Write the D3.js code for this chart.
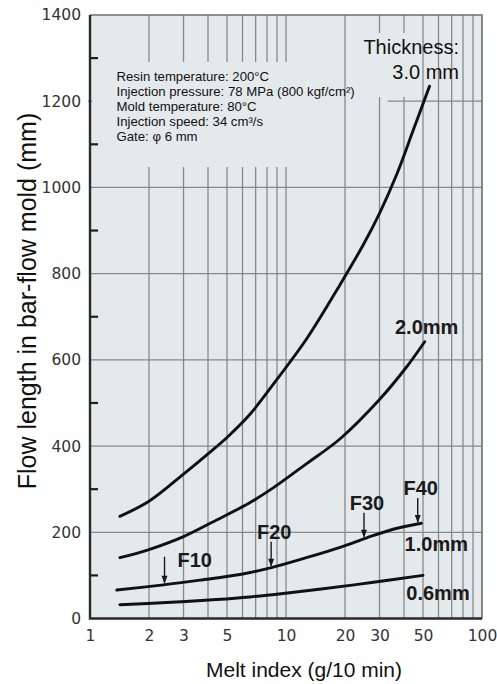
<!DOCTYPE html>
<html>
<head>
<meta charset="utf-8">
<script src="https://cdn.jsdelivr.net/npm/d3@7"></script>
<style>
  html, body { margin: 0; padding: 0; background: #ffffff; }
  svg { display: block; }
</style>
</head>
<body>
<svg id="chart" width="497" height="684"></svg>
<script>
// Melt index (g/10 min) and flow length (mm) for each wall thickness
const mi30   = [1.42, 2, 3, 4, 5, 6.5, 8.6, 12.8, 18.9, 25, 30, 36.7, 44.6, 54];
const flow30 = [237, 272, 335, 382, 420, 472, 543, 650, 775, 870, 940, 1030, 1133, 1235];

const mi20   = [1.42, 2, 3, 4.4, 6.5, 8.6, 12.8, 18.9, 30, 41.3, 51];
const flow20 = [141, 160, 190, 228, 268, 303, 360, 417, 508, 584, 642];

const mi10   = [1.37, 2.37, 3.64, 5.82, 8.43, 12.7, 18.9, 25.8, 35.2, 49];
const flow10 = [66, 78, 89, 102, 118, 141, 165, 187, 207, 221];

const mi06   = [1.42, 2.46, 4.43, 6.55, 9.69, 15.5, 27.9, 50];
const flow06 = [32, 37, 44, 50, 58, 69, 84, 100];

// Resin grades marked on the 1.0 mm curve
const gradeNames = ["F10", "F20", "F30", "F40"];
const gradeMI    = [2.4, 8.4, 25, 47];

// Axis ticks
const xTickLabels = [1, 2, 3, 5, 10, 20, 30, 50, 100];
const xGridValues = [2, 3, 4, 5, 6, 7, 8, 9, 10, 20, 30, 40, 50, 60, 70, 80, 90];
const yTickLabels = [0, 200, 400, 600, 800, 1000, 1200, 1400];
const yMinorTicks = [100, 300, 500, 700, 900, 1100, 1300];

const conditions = [
  "Resin temperature: 200°C",
  "Injection pressure: 78 MPa (800 kgf/cm²)",
  "Mold temperature: 80°C",
  "Injection speed: 34 cm³/s",
  "Gate: φ 6 mm"
];

const svg = d3.select("#chart");
const plotL = 90, plotR = 482, plotT = 15, plotB = 618.5;

const x = d3.scaleLog().domain([1, 100]).range([plotL, plotR]);
const y = d3.scaleLinear().domain([0, 1400]).range([plotB, plotT]);

const gridColor = "#858a8d";
const bg = "#e4e9ec";

// plot background
svg.append("rect")
  .attr("x", plotL).attr("y", plotT)
  .attr("width", plotR - plotL).attr("height", plotB - plotT)
  .attr("fill", bg);

// grid
const grid = svg.append("g").attr("stroke", gridColor).attr("stroke-width", 1.3);
grid.selectAll("line.v").data(xGridValues).join("line")
  .attr("class", "v")
  .attr("x1", d => x(d)).attr("x2", d => x(d))
  .attr("y1", plotT).attr("y2", plotB);
grid.selectAll("line.h").data([200, 400, 600, 800, 1000]).join("line")
  .attr("class", "h")
  .attr("x1", plotL).attr("x2", plotR)
  .attr("y1", d => y(d)).attr("y2", d => y(d));
// the 1200 line runs only on the right side of the condition block
grid.append("line")
  .attr("x1", x(33)).attr("x2", plotR)
  .attr("y1", y(1200)).attr("y2", y(1200));
grid.append("line")
  .attr("x1", plotL - 2).attr("x2", plotL + 9)
  .attr("y1", y(1200)).attr("y2", y(1200));

// backing panels behind the condition block and the thickness caption
svg.append("rect").attr("x", plotL + 2).attr("y", 62).attr("width", 205).attr("height", 105).attr("fill", bg);
svg.append("rect").attr("x", 372).attr("y", 33).attr("width", 38).attr("height", 64).attr("fill", bg);

// frame
svg.append("path")
  .attr("d", `M${plotL},${plotT}H${plotR}V${plotB}`)
  .attr("fill", "none").attr("stroke", "#6b6f72").attr("stroke-width", 1.6);
svg.append("path")
  .attr("d", `M${plotL},${plotT}V${plotB}H${plotR}`)
  .attr("fill", "none").attr("stroke", "#2b2b2b").attr("stroke-width", 2.4);

// minor ticks on the left axis
svg.append("g").attr("stroke", "#1e1e1e").attr("stroke-width", 2.2)
  .selectAll("line").data(yMinorTicks).join("line")
  .attr("x1", plotL).attr("x2", plotL + 8)
  .attr("y1", d => y(d)).attr("y2", d => y(d));

// axes (labels only)
const tickFont = "'DejaVu Sans', sans-serif";
const xAxis = svg.append("g")
  .attr("transform", `translate(0,${plotB})`)
  .call(d3.axisBottom(x).tickValues(xTickLabels).tickFormat(d3.format("d")).tickSize(0).tickPadding(11));
xAxis.select(".domain").remove();
xAxis.selectAll("text").attr("font-family", tickFont).attr("font-size", 15.5).attr("fill", "#333");

const yAxis = svg.append("g")
  .attr("transform", `translate(${plotL},0)`)
  .call(d3.axisLeft(y).tickValues(yTickLabels).tickFormat(d3.format("d")).tickSize(0).tickPadding(9));
yAxis.select(".domain").remove();
yAxis.selectAll("text").attr("font-family", tickFont).attr("font-size", 15.5).attr("fill", "#333");

// axis titles
const titleFont = "'Liberation Sans', Arial, sans-serif";
svg.append("text")
  .attr("x", 304).attr("y", 677)
  .attr("text-anchor", "middle")
  .attr("font-family", titleFont).attr("font-size", 21).attr("fill", "#111")
  .text("Melt index (g/10 min)");
svg.append("text")
  .attr("transform", "translate(36,301) rotate(-90)")
  .attr("text-anchor", "middle")
  .attr("font-family", titleFont).attr("font-size", 25).attr("fill", "#111")
  .text("Flow length in bar-flow mold (mm)");

// molding conditions
svg.append("g").selectAll("text").data(conditions).join("text")
  .attr("x", 116.5).attr("y", (d, i) => 80.5 + i * 15)
  .attr("font-family", titleFont).attr("font-size", 13.2).attr("fill", "#111")
  .text(d => d);

// curves
const line = d3.line().x(d => x(d[0])).y(d => y(d[1])).curve(d3.curveCatmullRom.alpha(0.5));
const series = [
  [mi30, flow30], [mi20, flow20], [mi10, flow10], [mi06, flow06]
];
svg.append("g").selectAll("path").data(series).join("path")
  .attr("d", s => line(d3.zip(s[0], s[1])))
  .attr("fill", "none").attr("stroke", "#111")
  .attr("stroke-width", 2.9).attr("stroke-linecap", "round").attr("stroke-linejoin", "round");

// thickness captions
svg.append("text").attr("x", 459).attr("y", 53.5).attr("text-anchor", "end")
  .attr("font-family", titleFont).attr("font-size", 20).attr("fill", "#111")
  .text("Thickness:");
svg.append("text").attr("x", 459).attr("y", 79).attr("text-anchor", "end")
  .attr("font-family", titleFont).attr("font-size", 20).attr("fill", "#111")
  .text("3.0 mm");

const boldFont = "'Liberation Sans', Arial, sans-serif";
const endLabel = (xs, ys, text, dx, dy) => {
  const n = xs.length - 1;
  svg.append("text")
    .attr("x", x(xs[n]) + dx).attr("y", y(ys[n]) + dy)
    .attr("text-anchor", "middle")
    .attr("font-family", boldFont).attr("font-weight", "bold").attr("font-size", 20).attr("fill", "#1a1a1a")
    .text(text);
};
endLabel(mi20, flow20, "2.0mm", 2, -8);
endLabel(mi10, flow10, "1.0mm", 15, 28);
endLabel(mi06, flow06, "0.6mm", 15, 25);

// grade arrows pointing at the 1.0 mm curve
function flowAt(xs, ys, v) {
  const lv = Math.log10(v);
  for (let i = 0; i < xs.length - 1; i++) {
    const a = Math.log10(xs[i]), b = Math.log10(xs[i + 1]);
    if (lv >= a && lv <= b) return ys[i] + (ys[i + 1] - ys[i]) * (lv - a) / (b - a);
  }
  return ys[ys.length - 1];
}

gradeNames.forEach((name, i) => {
  const ax = x(gradeMI[i]);
  const tip = y(flowAt(mi10, flow10, gradeMI[i])) - 1;
  const len = i === 0 ? 27 : 25;
  svg.append("line")
    .attr("x1", ax).attr("x2", ax)
    .attr("y1", tip - len).attr("y2", tip - 1)
    .attr("stroke", "#1a1a1a").attr("stroke-width", 1.4);
  svg.append("path")
    .attr("d", `M${ax - 3},${tip - 8}L${ax + 3},${tip - 8}L${ax},${tip}Z`)
    .attr("fill", "#1a1a1a");
  const t = svg.append("text")
    .attr("font-family", boldFont).attr("font-weight", "bold").attr("font-size", 20).attr("fill", "#1a1a1a")
    .text(name);
  if (i === 0) {
    t.attr("x", ax + 13).attr("y", tip - 17);
  } else {
    t.attr("x", ax + 3).attr("y", tip - len - 3).attr("text-anchor", "middle");
  }
});
</script>
</body>
</html>
